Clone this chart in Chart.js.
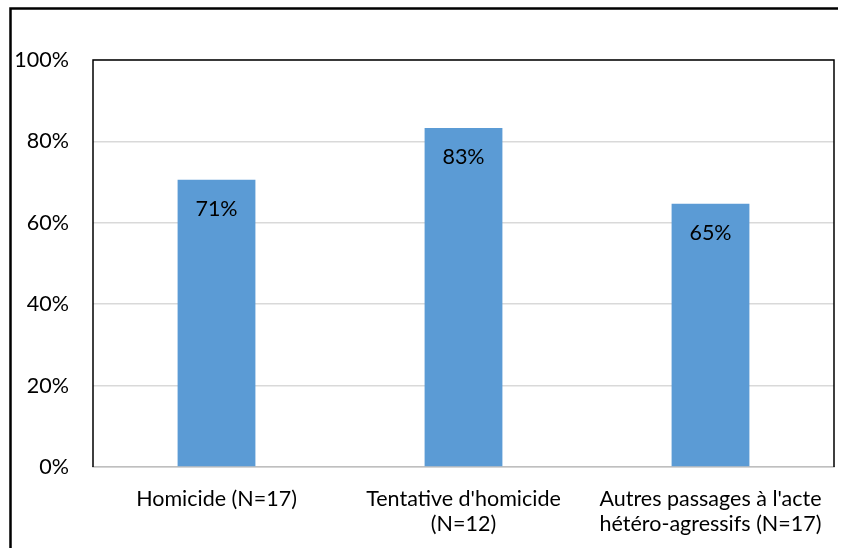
<!DOCTYPE html>
<html>
<head>
<meta charset="utf-8">
<script src="https://cdn.jsdelivr.net/npm/chart.js@4/dist/chart.umd.min.js"></script>
<style>
    html, body { margin: 0; padding: 0; background: #fff; }
    #wrap { width: 848px; height: 548px; position: relative; }
</style>
</head>
<body>
<div id="wrap"><canvas id="bar-chart"></canvas></div>
<script>
const categories = [
    "Homicide (N=17)",
    ["Tentative d'homicide", "(N=12)"],
    ["Autres passages à l'acte", "hétéro-agressifs (N=17)"]
];
const values = [70.6, 83.3, 64.7];
const value_labels = ["71%", "83%", "65%"];
const y_ticks = [0, 20, 40, 60, 80, 100];

const FONT = "Lato, 'Open Sans', sans-serif";

// frame around the figure + plot area border
const frame_plugin = {
    id: "frame",
    afterDraw(chart) {
        const ctx = chart.ctx;
        const area = chart.chartArea;
        ctx.save();
        ctx.strokeStyle = "#000";
        ctx.lineWidth = 2.5;
        ctx.beginPath();
        ctx.moveTo(10.5, 548);
        ctx.lineTo(10.5, 8.5);
        ctx.lineTo(838, 8.5);
        ctx.stroke();

        ctx.lineWidth = 1.5;
        ctx.beginPath();
        ctx.moveTo(area.left, area.bottom);
        ctx.lineTo(area.left, area.top);
        ctx.lineTo(area.right, area.top);
        ctx.lineTo(area.right, area.bottom);
        ctx.stroke();
        ctx.restore();
    }
};

// value labels inside the bars
const labels_plugin = {
    id: "valueLabels",
    afterDatasetsDraw(chart) {
        const ctx = chart.ctx;
        const meta = chart.getDatasetMeta(0);
        ctx.save();
        ctx.fillStyle = "#000";
        ctx.font = "21.5px " + FONT;
        ctx.textAlign = "center";
        ctx.textBaseline = "middle";
        meta.data.forEach((bar, i) => {
            ctx.fillText(value_labels[i], bar.x, bar.y + 29);
        });
        ctx.restore();
    }
};

new Chart(document.getElementById("bar-chart"), {
    type: "bar",
    data: {
        labels: categories,
        datasets: [{
            data: values,
            backgroundColor: "#5B9BD5",
            borderWidth: 0,
            barPercentage: 0.63,
            categoryPercentage: 0.5
        }]
    },
    options: {
        responsive: true,
        maintainAspectRatio: false,
        animation: false,
        layout: { padding: { top: 60, right: 14, left: 0, bottom: 0 } },
        plugins: {
            legend: { display: false },
            tooltip: { enabled: false }
        },
        scales: {
            x: {
                grid: { display: false },
                border: { display: true, color: "#bfbfbf", width: 1.5 },
                ticks: {
                    color: "#000",
                    font: { family: FONT, size: 21.5, lineHeight: 1.15 },
                    maxRotation: 0,
                    autoSkip: false,
                    padding: 12
                },
                afterFit: (scale) => { scale.height = 81; }
            },
            y: {
                min: 0,
                max: 100,
                afterBuildTicks: (scale) => { scale.ticks = y_ticks.map((v) => ({ value: v })); },
                grid: { color: "#d9d9d9", lineWidth: 1.5, drawTicks: false },
                border: { display: false },
                ticks: {
                    color: "#000",
                    font: { family: FONT, size: 21.5 },
                    padding: 24,
                    callback: (v) => v + "%"
                },
                afterFit: (scale) => { scale.width = 93; }
            }
        }
    },
    plugins: [frame_plugin, labels_plugin]
});
</script>
</body>
</html>
